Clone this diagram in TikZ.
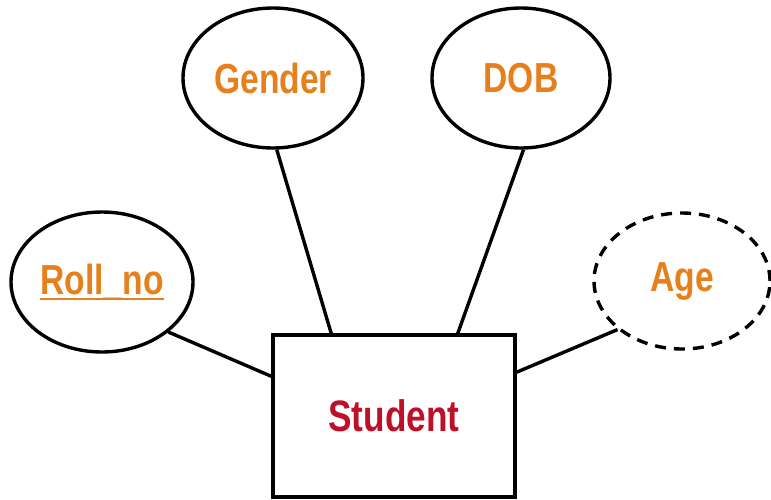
\documentclass[tikz,border=0pt]{standalone}
\usepackage{fontspec}
\setmainfont{Liberation Sans}[FakeStretch=0.8]
\usetikzlibrary{shapes.geometric,calc}
\definecolor{attrorange}{RGB}{230,128,28}
\definecolor{entityred}{RGB}{190,16,40}
\newcommand{\keyattr}[1]{{\setbox0\hbox{#1}\rlap{\usebox0}\raisebox{-6pt}{\rule{\wd0}{2pt}}}}
\begin{document}
\begin{tikzpicture}[x=1pt,y=-1pt,
  conn/.style={line width=3.4pt},
  attr/.style={ellipse, draw, line width=3.4pt, inner sep=0pt,
    font=\fontsize{42}{48}\selectfont\bfseries, text=attrorange},
  derived/.style={attr, dash pattern=on 11pt off 8pt},
  entity/.style={rectangle, draw, line width=3.4pt, inner sep=0pt,
    minimum width=242pt, minimum height=162pt,
    font=\fontsize{44}{50}\selectfont\bfseries, text=entityred}]
\useasboundingbox (0,0) rectangle (771,499);
\fill[white] (0,0) rectangle (771,499);

% entity
\node[entity] (student) at (394,416) {Student};

% attributes
\node[attr, minimum width=180pt, minimum height=140pt] (gender) at (273,78) {Gender};
\node[attr, minimum width=178pt, minimum height=140pt] (dob) at (521,78) {DOB};
\node[attr, minimum width=182pt, minimum height=140pt] (roll) at (102,282) {\keyattr{Roll\_no}};
\node[derived, minimum width=176pt, minimum height=136pt] (age) at (682,281) {Age};

% connectors
\draw[conn] (gender.-87) -- ($(student.north west)!0.244!(student.north east)$);
\draw[conn] (dob.-88) -- ($(student.north west)!0.76!(student.north east)$);
\draw[conn] (roll.-37) -- ($(student.north west)!0.26!(student.south west)$);
\draw[conn] (age.-143) -- ($(student.north east)!0.235!(student.south east)$);
\end{tikzpicture}
\end{document}
